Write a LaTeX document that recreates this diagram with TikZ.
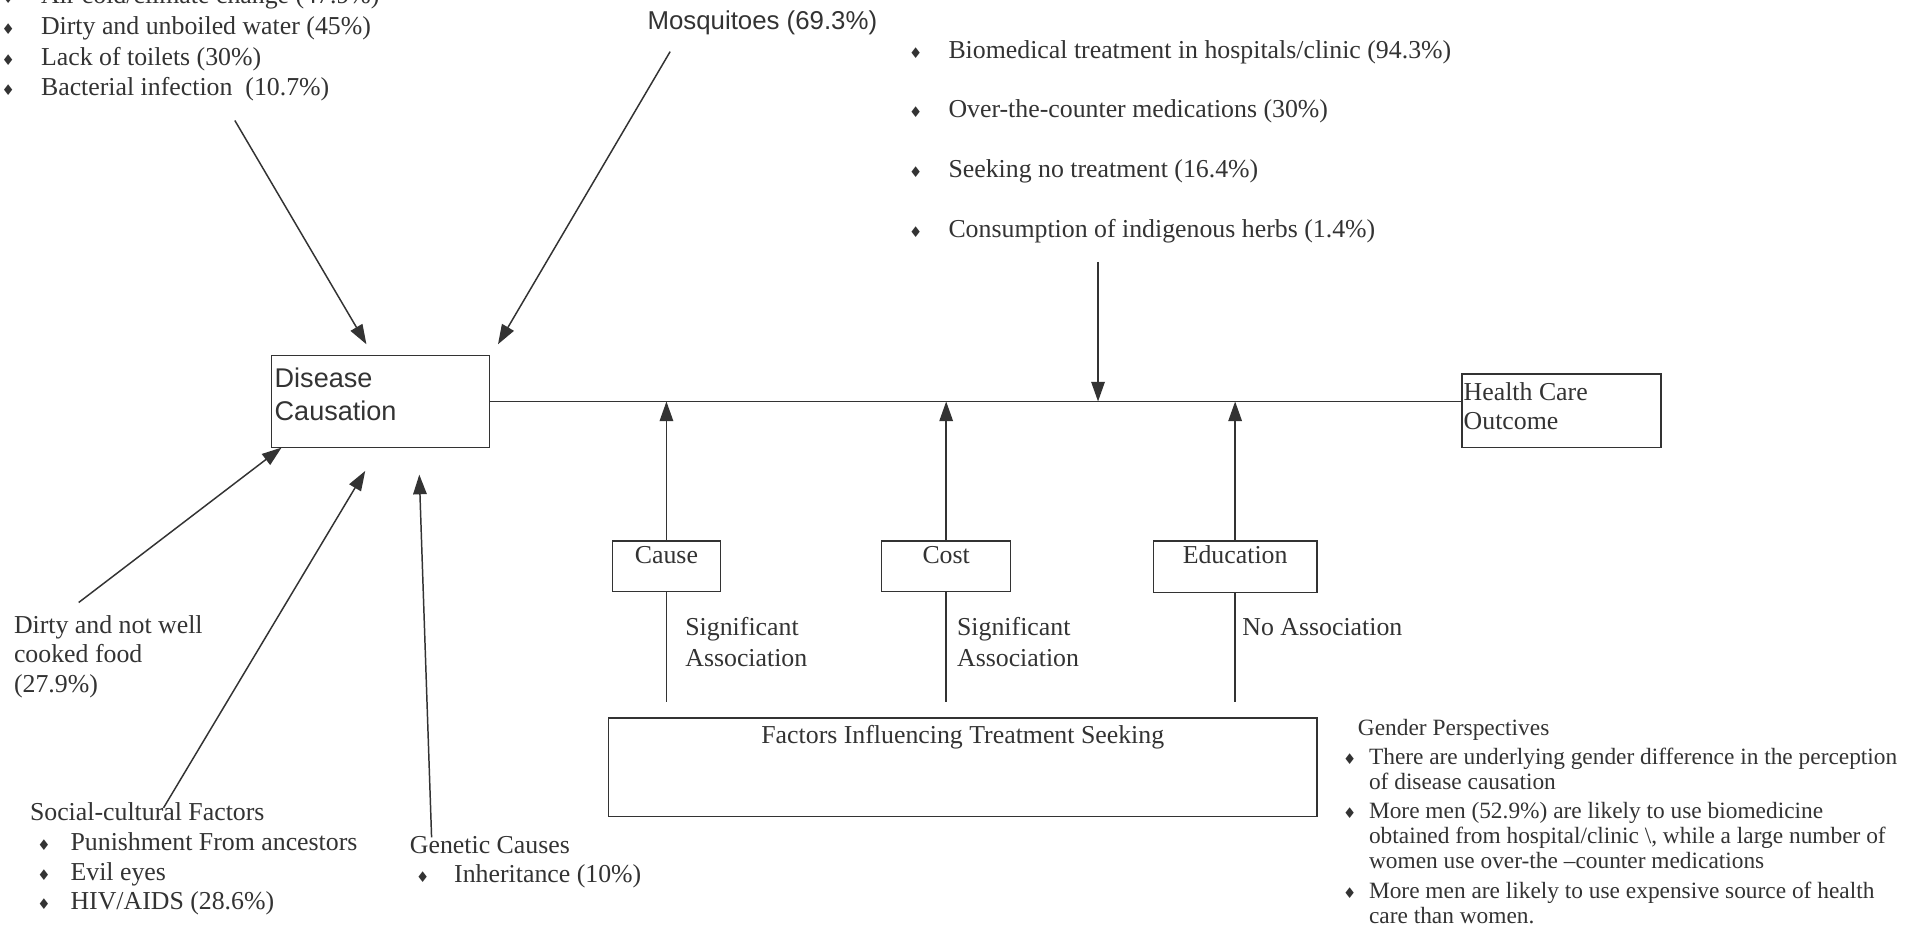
\documentclass[tikz,border=0pt]{standalone}
\usepackage{fontspec}
\setmainfont{Liberation Serif}
\newfontfamily\arialf{Liberation Sans}
\newfontfamily\dejavu{DejaVu Sans}
\usetikzlibrary{arrows.meta}
\definecolor{ink}{HTML}{333333}
\newcommand{\bul}{{\dejavu\fontsize{6}{6}\selectfont ♦}}
\newcommand{\itm}[2]{\makebox[#1][l]{\bul}#2}
\begin{document}
\begin{tikzpicture}[x=0.5pt,y=-0.5pt,
  every node/.style={inner sep=0pt, text=ink},
  box/.style={draw=ink, line width=0.6pt},
  ln/.style={draw=ink, line width=0.6pt},
  arr/.style={draw=ink, line width=0.6pt, -{Triangle[length=8pt,width=5.5pt]}},
  serif/.style={font=\fontsize{10.5}{12.5}\selectfont},
  lbl/.style={anchor=base west, align=left}]
\useasboundingbox (0,0) rectangle (1568,759);
\fill[white] (0,0) rectangle (1568,759);

% top-left list (anchored at the baseline of its last line)
\node[lbl, font=\fontsize{10.5}{12.5}\selectfont] (envlist) at (1,78)
 {\itm{16pt}{Air cold/climate change (47.9\%)}\\
  \itm{16pt}{Dirty and unboiled water (45\%)}\\
  \itm{16pt}{Lack of toilets (30\%)}\\
  \itm{16pt}{Bacterial infection\ \ (10.7\%)}};

% mosquitoes
\node[anchor=base, font=\arialf\fontsize{10.5}{12.5}\selectfont] (mosq) at (620,24) {Mosquitoes (69.3\%)};

% treatment list
\node[lbl, font=\fontsize{10.5}{24.3}\selectfont] (treat) at (739,193)
 {\itm{16pt}{Biomedical treatment in hospitals/clinic (94.3\%)}\\
  \itm{16pt}{Over-the-counter medications (30\%)}\\
  \itm{16pt}{Seeking no treatment (16.4\%)}\\
  \itm{16pt}{Consumption of indigenous herbs (1.4\%)}};

% Disease causation
\node[box, minimum width=88.5pt, minimum height=37.5pt] (dc) at (309.5,326.5) {};
\node[lbl, font=\arialf\fontsize{11}{13.5}\selectfont] (dct) at (223,342) {Disease\\Causation};

% Health care outcome
\node[box, minimum width=81pt, minimum height=30pt] (hc) at (1270,334) {};
\node[lbl, font=\fontsize{10.5}{11.5}\selectfont] (hct) at (1190,349) {Health Care\\Outcome};

% factor boxes
\node[box, minimum width=44pt, minimum height=20.5pt] (cause) at (542,460.5) {};
\node[anchor=base, serif] (causet) at (542,458) {Cause};
\node[box, minimum width=52.5pt, minimum height=20.5pt] (cost) at (769.5,460.5) {};
\node[anchor=base, serif] (costt) at (769.5,458) {Cost};
\node[box, minimum width=66.5pt, minimum height=21pt] (edu) at (1004.5,461) {};
\node[anchor=base, serif] (edut) at (1004.5,458) {Education};

\node[box, minimum width=288pt, minimum height=40pt] (fac) at (783,624) {};
\node[anchor=base, serif] (fact) at (783,605) {Factors Influencing Treatment Seeking};

% association labels
\node[lbl, serif] (sa1) at (557,542) {Significant\\Association};
\node[lbl, serif] (sa2) at (778,542) {Significant\\Association};
\node[lbl, serif] (na) at (1010,517) {No Association};

% main line
\draw[ln] (dc.east) -- (dc.east -| hc.west);

% up arrows into main line
\draw[arr] (cause.north) -- (cause.north |- dc.east);
\draw[arr] (cost.north) -- (cost.north |- dc.east);
\draw[arr] (edu.north) -- (edu.north |- dc.east);

% stems below factor boxes
\coordinate (yb) at (0,571);
\draw[ln] (cause.south) -- (cause.south |- yb);
\draw[ln] (cost.south) -- (cost.south |- yb);
\draw[ln] (edu.south) -- (edu.south |- yb);

% treatment arrow down
\coordinate (dtop) at (893,213);
\draw[arr] (dtop) -- (dtop |- dc.east);

% arrows into disease causation
\coordinate (a1s) at (191,98);   \coordinate (a1e) at (298,280);
\coordinate (a2s) at (545,42);   \coordinate (a2e) at (405,280);
\coordinate (a3s) at (64,490);   \coordinate (a3e) at (229,364);
\coordinate (a4s) at (133,657);  \coordinate (a4e) at (297,383);
\coordinate (a5s) at (351,681);  \coordinate (a5e) at (341,386);
\draw[arr] (a1s) -- (a1e);
\draw[arr] (a2s) -- (a2e);
\draw[arr] (a3s) -- (a3e);
\draw[arr] (a4s) -- (a4e);
\draw[arr] (a5s) -- (a5e);

% bottom-left texts
\node[lbl, font=\fontsize{10.5}{12}\selectfont] (food) at (11,563) {Dirty and not well\\cooked food\\(27.9\%)};

\node[lbl, font=\fontsize{10.5}{12}\selectfont] (soc) at (24,667) {Social-cultural Factors};
\node[lbl, font=\fontsize{10.5}{12}\selectfont] (soclist) at (30,740)
 {\itm{13.5pt}{Punishment From ancestors}\\
  \itm{13.5pt}{Evil eyes}\\
  \itm{13.5pt}{HIV/AIDS (28.6\%)}};

\node[lbl, font=\fontsize{10.5}{12}\selectfont] (gen) at (333,694) {Genetic Causes};
\node[lbl, font=\fontsize{10.5}{12}\selectfont] (genlist) at (338,718)
 {\itm{15.5pt}{Inheritance (10\%)}};

% gender perspectives
\node[lbl, font=\fontsize{9.5}{10}\selectfont] (gp) at (1104,598) {Gender Perspectives};
\node[lbl, font=\fontsize{9.5}{10}\selectfont] (gplist) at (1092,751)
 {\itm{10.5pt}{There are underlying gender difference in the perception}\\
  \hspace*{10.5pt}of disease causation\\[2pt]
  \itm{10.5pt}{More men (52.9\%) are likely to use biomedicine}\\
  \hspace*{10.5pt}obtained from hospital/clinic \textbackslash, while a large number of\\
  \hspace*{10.5pt}women use over-the --counter medications\\[2.5pt]
  \itm{10.5pt}{More men are likely to use expensive source of health}\\
  \hspace*{10.5pt}care than women.};
\end{tikzpicture}
\end{document}
